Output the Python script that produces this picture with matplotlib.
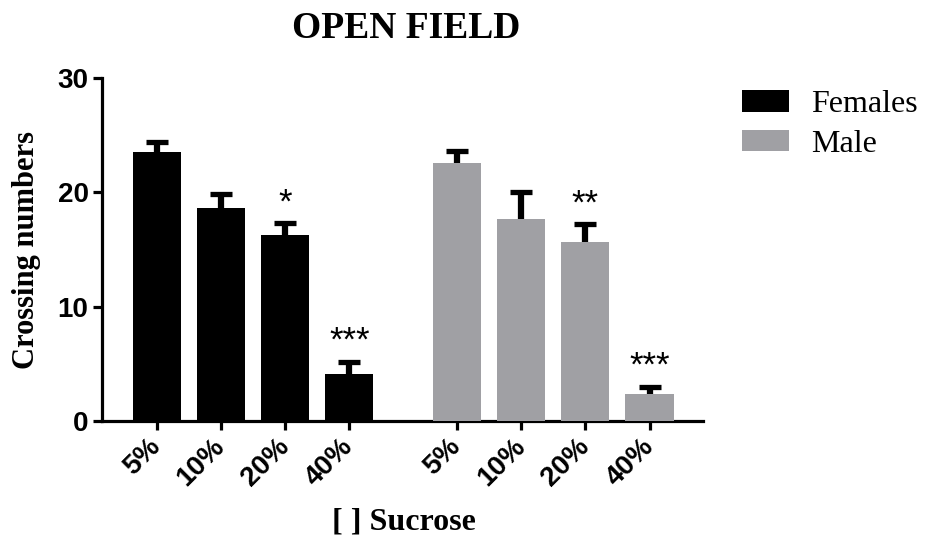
import matplotlib
matplotlib.use("Agg")
import matplotlib.pyplot as plt
import numpy as np

# data
doses = ["5%", "10%", "20%", "40%"]
females_mean = [23.5, 18.6, 16.3, 4.1]
females_sem = [0.9, 1.3, 1.0, 1.1]
male_mean = [22.6, 17.7, 15.7, 2.4]
male_sem = [1.0, 2.3, 1.5, 0.6]
females_stars = ["", "", "*", "***"]
male_stars = ["", "", "**", "***"]

serif = "Liberation Serif"
sans = "Liberation Sans"
grey = "#a0a0a4"


def draw_group(ax, x, means, sems, stars, color, label):
    ax.bar(x, means, 0.75, color=color, label=label, zorder=3)
    # one-sided (upper) error bars
    _, caps, _ = ax.errorbar(x, means, yerr=[np.zeros(len(means)), sems],
                             fmt="none", ecolor="black", elinewidth=4.5,
                             capsize=8, capthick=3.8, zorder=2)
    if len(caps) > 1:
        caps[0].set_visible(False)
    # significance marks above the error bars
    for xi, m, e, s in zip(x, means, sems, stars):
        if s:
            ax.text(xi, m + e + 1.8, s, ha="center", va="center",
                    fontsize=25, family=sans, zorder=4)


fig = plt.figure(figsize=(9.29, 5.39), dpi=100)
ax = fig.add_axes([0.1095, 0.219, 0.647, 0.636])

x_f = np.arange(len(doses))
x_m = np.arange(len(doses)) + 4.68

draw_group(ax, x_f, females_mean, females_sem, females_stars, "black", "Females")
draw_group(ax, x_m, male_mean, male_sem, male_stars, grey, "Male")

ax.set_xlim(-0.86, 8.51)
ax.set_ylim(0, 30)
ax.set_yticks([0, 10, 20, 30])
ax.set_xticks(np.concatenate([x_f, x_m]))
ax.set_xticklabels(doses + doses, rotation=45, ha="right",
                   rotation_mode="anchor", va="center")

for side in ["top", "right"]:
    ax.spines[side].set_visible(False)
for side in ["left", "bottom"]:
    ax.spines[side].set_linewidth(2.3)
ax.tick_params(axis="both", width=2.3, length=6.5, direction="out")
ax.tick_params(axis="x", pad=9)
ax.tick_params(axis="y", pad=3)
for lab in ax.get_xticklabels() + ax.get_yticklabels():
    lab.set_family(sans)
    lab.set_fontweight("bold")
    lab.set_fontsize(20)

ax.set_ylabel("Crossing numbers", family=serif, fontweight="bold",
              fontsize=22, labelpad=12)

fig.text(404 / 929, 1 - 522 / 539, "[ ] Sucrose", family=serif,
         fontweight="bold", fontsize=23, ha="center", va="center")
fig.text(406 / 929, 1 - 29 / 539, "OPEN FIELD", family=serif,
         fontweight="bold", fontsize=27, ha="center", va="center")

ax.legend(loc="upper left", bbox_to_anchor=(742 / 929, 1 - 90 / 539),
          bbox_transform=fig.transFigure, frameon=False,
          prop={"family": serif, "size": 23}, handlelength=1.47,
          handleheight=0.67, handletextpad=0.7, labelspacing=0.33,
          borderpad=0, borderaxespad=0)

fig.savefig("out.png", dpi=100)
